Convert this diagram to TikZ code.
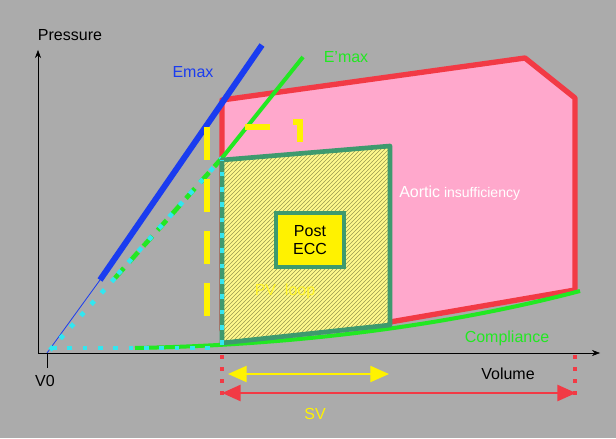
\documentclass[tikz,border=0pt]{standalone}
\usepackage{fontspec}
\setmainfont{Liberation Sans}
\usetikzlibrary{patterns,arrows.meta}
\definecolor{bg}{HTML}{ABABAB}
\definecolor{pinkf}{HTML}{FFA8CC}
\definecolor{redl}{HTML}{F23A45}
\definecolor{teal}{HTML}{3E9A6E}
\definecolor{gr}{HTML}{22E822}
\definecolor{cy}{HTML}{33E6F0}
\definecolor{bl}{HTML}{1A3CF0}
\definecolor{yl}{HTML}{FFF200}
\definecolor{hatch}{HTML}{9A9A50}
\begin{document}
\begin{tikzpicture}[x=0.75pt,y=-0.75pt,
  lbl/.style={inner sep=0pt,font=\fontsize{12}{14}\selectfont},
  cydot/.style={cy,line width=3.5pt,dash pattern=on 3.5pt off 8pt}]
\fill[bg] (0,0) rectangle (616,438);
% pink region
\draw[redl,line width=4pt,fill=pinkf,line join=round] (222,100) -- (525,58) -- (575,98) -- (575,290) -- (390,322) -- (222,330) -- cycle;
% axes
\draw[-{Stealth[length=6pt]}] (38,353) -- (38,50);
\draw[-{Stealth[length=6pt]}] (38,353) -- (600,353);
\draw (47,353) -- (47,368);
\node[lbl] (p) at (70,35) {Pressure};
\node[lbl] (v) at (508,374) {Volume};
\node[lbl] (v0) at (45,381) {V0};
% Emax
\draw[bl,line width=0.6pt] (47,353) -- (100,280);
\draw[bl,line width=4.5pt] (100,280) -- (262,45);
\node[lbl,bl] (em) at (193,72) {Emax};
% E'max
\draw[cydot] (50,350) -- (115,278);
\draw[gr,line width=3.5pt,dash pattern=on 10pt off 6pt] (115,278) -- (222,158);
\draw[cydot] (118,274) -- (222,158);
\draw[gr,line width=3pt] (222,158) -- (303,57);
\node[lbl,gr] (emp) at (346,57) {E'max};
% hatched box
\fill[yellow!45!white] (222,160) -- (390,146) -- (390,325) -- (222,343) -- cycle;
\fill[pattern=north east lines,pattern color=hatch] (222,160) -- (390,146) -- (390,325) -- (222,343) -- cycle;
% compliance
\draw[gr,line width=3pt] (135,348) .. controls (300,345) and (450,325) .. (580,291);
\node[lbl,gr] (comp) at (507,338) {Compliance};
\draw[teal,line width=3.5pt,line join=round] (222,160) -- (390,146) -- (390,325) -- (222,343) -- cycle;
% cyan dots
\draw[cydot] (52,348) -- (220,348);
\draw[cydot] (222,345) -- (222,160);
% yellow dashed loop
\draw[yl,line width=4.5pt,dash pattern=on 25pt off 14pt] (207,127) -- (207,330);
\draw[yl,line width=4.5pt] (245,127) -- (270,127);
\draw[yl,line width=4.5pt] (293,122) -- (300,122) -- (300,142);
% post ECC
\node[draw=teal,line width=3.5pt,fill=yl,minimum width=68pt*0.75,minimum height=54pt*0.75,align=center,lbl] (ecc) at (310,240) {Post\\ECC};
\node[lbl,yl!85!white] (pv) at (285,291) {PV\ \ loop};
\node[lbl,white,anchor=west] (ai) at (399,193) {Aortic{\fontsize{10.5}{12}\selectfont\ insufficiency}};
% SV
\draw[redl,line width=2.5pt,dash pattern=on 3pt off 6pt] (222,355) -- (222,398);
\draw[redl,line width=2.5pt,dash pattern=on 3pt off 6pt] (575,355) -- (575,398);
\coordinate (a1) at (228,374); \coordinate (a2) at (389,374);
\draw[yl,line width=1.5pt,{Triangle[length=14pt,width=12pt]}-{Triangle[length=14pt,width=12pt]}] (a1) -- (a2);
\coordinate (b1) at (222,393); \coordinate (b2) at (576,393);
\draw[redl,line width=2pt,{Triangle[length=14pt,width=12pt]}-{Triangle[length=14pt,width=12pt]}] (b1) -- (b2);
\node[lbl,yl] (sv) at (315,414) {SV};
\end{tikzpicture}
\end{document}
